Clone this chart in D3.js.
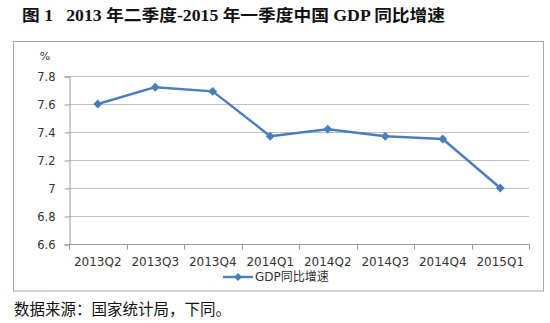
<!DOCTYPE html>
<html>
<head>
<meta charset="utf-8">
<script src="https://cdn.jsdelivr.net/npm/d3@7"></script>
<style>
  html, body { margin: 0; padding: 0; background: #fff; }
  svg { display: block; }
</style>
</head>
<body>
<svg id="chart" width="550" height="323"></svg>
<script>
// Quarterly year-on-year GDP growth, %
const quarters = ["2013Q2", "2013Q3", "2013Q4", "2014Q1", "2014Q2", "2014Q3", "2014Q4", "2015Q1"];
const growth = [7.6, 7.72, 7.69, 7.37, 7.42, 7.37, 7.35, 7.0];
const yTicks = [6.6, 6.8, 7.0, 7.2, 7.4, 7.6, 7.8];
const seriesName = "GDP同比增速";
const titleText = "图 1\u00a0\u00a0\u00a02013 年二季度-2015 年一季度中国 GDP 同比增速";
const sourceText = "数据来源：国家统计局，下同。";

const svg = d3.select("#chart");
const blue = "#4a7ebb";
const labelFont = "'DejaVu Sans', Verdana, sans-serif";

// Title
svg.append("text")
  .attr("x", 22).attr("y", 21)
  .attr("font-family", "'Liberation Serif', 'Noto Sans CJK SC', serif")
  .attr("font-weight", "bold")
  .attr("font-size", 16)
  .attr("fill", "#111")
  .attr("textLength", 423)
  .attr("lengthAdjust", "spacingAndGlyphs")
  .text(titleText);

// Chart frame
svg.append("rect")
  .attr("x", 13.5).attr("y", 41.5)
  .attr("width", 530).attr("height", 249.5)
  .attr("fill", "#fff")
  .attr("stroke", "#a6a6a6")
  .attr("stroke-width", 1);

const x = d3.scaleBand().domain(quarters).range([69, 529]);
const y = d3.scaleLinear().domain([6.6, 7.8]).range([244, 76]);

// Horizontal gridlines
svg.append("g")
  .selectAll("line")
  .data(yTicks.slice(1))
  .join("line")
  .attr("x1", 69).attr("x2", 529)
  .attr("y1", d => Math.round(y(d)) + 0.5)
  .attr("y2", d => Math.round(y(d)) + 0.5)
  .attr("stroke", "#c0c0c0")
  .attr("stroke-width", 1);

// Y axis
const yAxis = svg.append("g")
  .attr("transform", "translate(69.5,0.5)")
  .call(d3.axisLeft(y).tickValues(yTicks).tickSize(5).tickPadding(9)
    .tickFormat(d => d3.format("")(+d.toFixed(1))));
yAxis.select(".domain").attr("stroke", "#999");
yAxis.selectAll(".tick line").attr("stroke", "#999");
yAxis.selectAll(".tick text")
  .attr("font-family", labelFont)
  .attr("font-size", 11.5)
  .attr("fill", "#333");

// X axis with ticks at category boundaries
const xAxisG = svg.append("g").attr("transform", "translate(0,244.5)");
xAxisG.append("line")
  .attr("x1", 69).attr("x2", 529.5)
  .attr("stroke", "#999");
xAxisG.selectAll("line.tk")
  .data(quarters.map(q => x(q)).concat([x.range()[1]]))
  .join("line").attr("class", "tk")
  .attr("x1", d => Math.round(d) + 0.5).attr("x2", d => Math.round(d) + 0.5)
  .attr("y1", 0).attr("y2", 5)
  .attr("stroke", "#999");
xAxisG.selectAll("text")
  .data(quarters)
  .join("text")
  .attr("x", d => x(d) + x.bandwidth() / 2)
  .attr("y", 21.5)
  .attr("text-anchor", "middle")
  .attr("font-family", labelFont)
  .attr("font-size", 12)
  .attr("fill", "#333")
  .text(d => d);

// Unit label
svg.append("text")
  .attr("x", 45).attr("y", 60)
  .attr("text-anchor", "middle")
  .attr("font-family", labelFont)
  .attr("font-size", 11)
  .attr("fill", "#333")
  .text("%");

// Series line
const cx = (d, i) => x(quarters[i]) + x.bandwidth() / 2;
const line = d3.line().x((d, i) => cx(d, i)).y(d => y(d));
svg.append("path")
  .datum(growth)
  .attr("d", line)
  .attr("fill", "none")
  .attr("stroke", blue)
  .attr("stroke-width", 2.4)
  .attr("stroke-linejoin", "round");

const diamond = d3.symbol().type(d3.symbolDiamond2).size(50);
svg.append("g")
  .selectAll("path")
  .data(growth)
  .join("path")
  .attr("transform", (d, i) => `translate(${cx(d, i)},${y(d)})`)
  .attr("d", diamond)
  .attr("fill", blue);

// Legend
const lg = svg.append("g").attr("transform", "translate(223,277)");
lg.append("line").attr("x1", 0).attr("x2", 30).attr("stroke", blue).attr("stroke-width", 2.4);
lg.append("path").attr("transform", "translate(15,0)").attr("d", d3.symbol().type(d3.symbolDiamond2).size(40)).attr("fill", blue);
lg.append("text")
  .attr("x", 32).attr("y", 4.2)
  .attr("font-family", "'DejaVu Sans', 'Noto Sans CJK SC', sans-serif")
  .attr("font-size", 12)
  .attr("fill", "#333")
  .text(seriesName);

// Source note
svg.append("text")
  .attr("x", 14).attr("y", 315)
  .attr("font-family", "'Noto Sans CJK SC', sans-serif")
  .attr("font-size", 15.5)
  .attr("fill", "#111")
  .text(sourceText);
</script>
</body>
</html>
